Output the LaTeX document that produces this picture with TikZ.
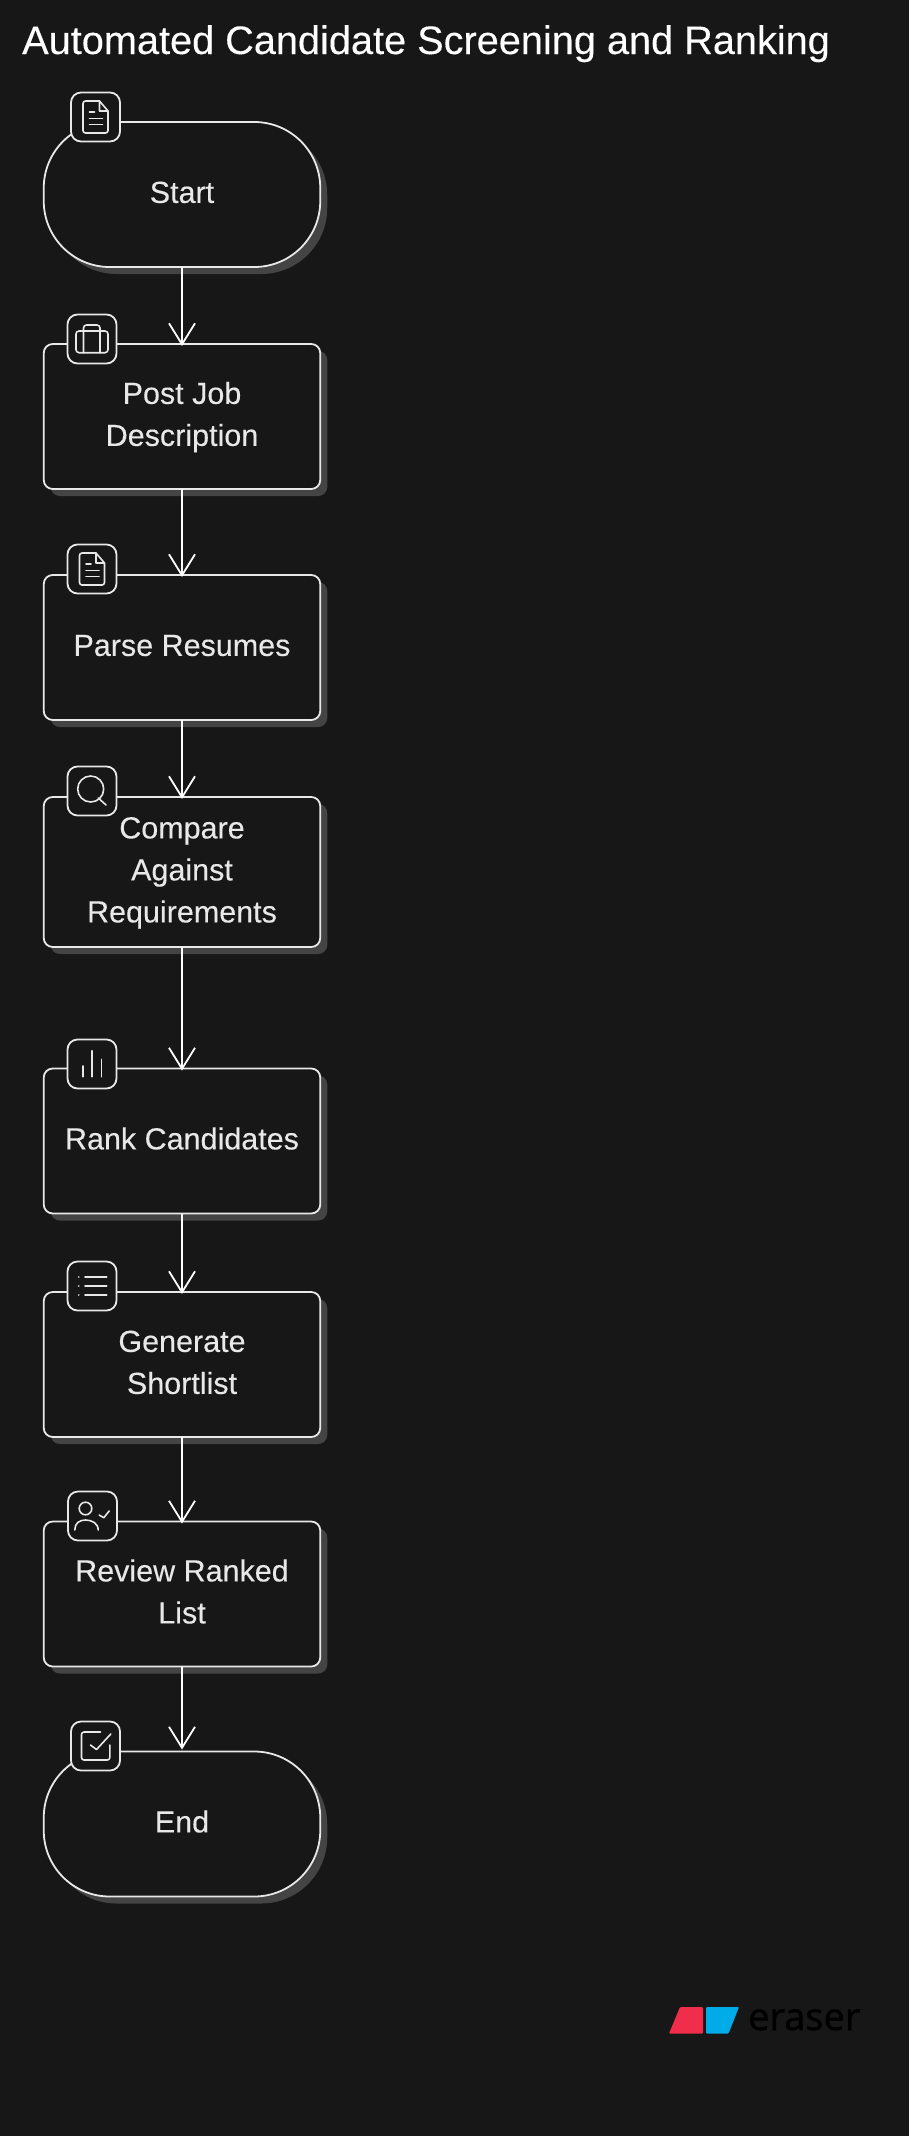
\documentclass[tikz,border=0pt]{standalone}
\usepackage{fontspec}
\setmainfont[FakeBold=0.2]{Liberation Sans}
\newfontfamily\logofont[FakeBold=1.2]{Open Sans}
\usetikzlibrary{arrows.meta,shadows}

\definecolor{pagebg}{HTML}{171717}
\definecolor{inkline}{HTML}{E8E8E8}
\definecolor{shadowgray}{HTML}{444444}
\definecolor{logored}{HTML}{F02D4B}
\definecolor{logoblue}{HTML}{00ACE8}

\newcommand{\boxlines}[1]{\begin{tabular}{@{}c@{}}#1\end{tabular}}

\tikzset{
  flowbox/.style={draw=inkline,line width=1.8pt,fill=pagebg,text=inkline,
    minimum width=276.5pt,minimum height=145pt,inner sep=0pt,outer sep=0pt,
    rounded corners=9pt,font=\fontsize{30.5}{42}\selectfont,
    drop shadow={shadow xshift=7pt,shadow yshift=-7pt,fill=shadowgray,opacity=1}},
  endbox/.style={flowbox,rounded corners=66pt},
  iconbox/.style={draw=inkline,line width=1.8pt,fill=pagebg,minimum size=49pt,
    inner sep=0pt,outer sep=0pt,rounded corners=10pt},
  flowarrow/.style={draw=white,line width=1.8pt,shorten >=-2pt,-{Straight Barb[length=21pt,width=26pt,line width=1.8pt]}},
  iconline/.style={draw=inkline,line width=1.6pt,line cap=round,line join=round},
  docicon/.pic={
    \draw[iconline,rounded corners=2.5pt] (4,-16) -- (-12.5,-16) -- (-12.5,16) -- (12.5,16) -- (12.5,-6);
    \draw[iconline] (4,-16) -- (12.5,-6) -- (4,-6) -- cycle;
    \draw[iconline] (-6,-5.3) -- (-1,-5.3);
    \draw[iconline] (-6,1.3) -- (7,1.3);
    \draw[iconline] (-6,7.3) -- (7,7.3);
  },
  caseicon/.pic={
    \draw[iconline,rounded corners=3pt] (-16,-8) rectangle (16,13.7);
    \draw[iconline,rounded corners=3pt] (-8.5,13.7) -- (-8.5,-14) -- (8,-14) -- (8,13.7);
  },
  searchicon/.pic={
    \draw[iconline] (-1.3,-2) circle (13);
    \draw[iconline] (6.3,7) -- (14,14);
  },
  barsicon/.pic={
    \draw[iconline] (-9.3,12.7) -- (-9.3,2);
    \draw[iconline] (0,12.7) -- (0,-13.3);
    \draw[iconline] (9.3,12.7) -- (9.3,-4.7);
  },
  listicon/.pic={
    \draw[iconline] (-7,-9) -- (14.7,-9);
    \draw[iconline] (-7,0) -- (14.7,0);
    \draw[iconline] (-7,9) -- (14.7,9);
    \fill[inkline] (-13.3,-9) circle (0.9);
    \fill[inkline] (-13.3,0) circle (0.9);
    \fill[inkline] (-13.3,9) circle (0.9);
  },
  usercheckicon/.pic={
    \draw[iconline] (-7,-7.5) circle (6.3);
    \draw[iconline] (-17.7,14) .. controls (-17.7,7) and (-13,4) .. (-7,4) .. controls (-1,4) and (5.7,7) .. (5.7,14);
    \draw[iconline] (6.7,-1) -- (11.3,1.7) -- (16.7,-5);
  },
  checkicon/.pic={
    \draw[iconline,rounded corners=2.5pt] (5,-14) -- (-14,-14) -- (-14,14) -- (14.3,14) -- (14.3,-1);
    \draw[iconline] (-5,-1) -- (1,3.5) -- (15.3,-12);
  }
}

\begin{document}
\begin{tikzpicture}[x=1pt,y=-1pt]
\fill[pagebg] (0,0) rectangle (909,2136);

\node[anchor=base west,inner sep=0pt,text=white,font=\fontsize{39.7}{48}\selectfont] (title) at (22,54) {Automated Candidate Screening and Ranking};

% Flow boxes, top to bottom.
\node[endbox] (start) at (182,194.5) {\boxlines{Start}};
\node[flowbox] (post) at (182,416.5) {\boxlines{Post Job\\Description}};
\node[flowbox] (parse) at (182,647.5) {\boxlines{Parse Resumes}};
\node[flowbox,minimum height=150pt] (compare) at (182,872) {\boxlines{Compare\\Against\\Requirements}};
\node[flowbox] (rank) at (182,1141) {\boxlines{Rank Candidates}};
\node[flowbox] (shortlist) at (182,1364.5) {\boxlines{Generate\\Shortlist}};
\node[flowbox] (review) at (182,1594) {\boxlines{Review Ranked\\List}};
\node[endbox] (finish) at (182,1824) {\boxlines{End}};

\draw[flowarrow] (start) -- (post);
\draw[flowarrow] (post) -- (parse);
\draw[flowarrow] (parse) -- (compare);
\draw[flowarrow] (compare) -- (rank);
\draw[flowarrow] (rank) -- (shortlist);
\draw[flowarrow] (shortlist) -- (review);
\draw[flowarrow,shorten >=2pt] (review) -- (finish);

% Icon badges on the top left corners.
\node[iconbox] (iconstart) at (95.5,117) {};
\pic at (iconstart) {docicon};
\node[iconbox] (iconpost) at (92,339) {};
\pic at (iconpost) {caseicon};
\node[iconbox] (iconparse) at (92,569) {};
\pic at (iconparse) {docicon};
\node[iconbox] (iconcompare) at (92,791) {};
\pic at (iconcompare) {searchicon};
\node[iconbox] (iconrank) at (92,1064) {};
\pic at (iconrank) {barsicon};
\node[iconbox] (iconshortlist) at (92,1286) {};
\pic at (iconshortlist) {listicon};
\node[iconbox] (iconreview) at (92.5,1516) {};
\pic at (iconreview) {usercheckicon};
\node[iconbox] (iconfinish) at (95.5,1746) {};
\pic at (iconfinish) {checkicon};

% Logo, bottom right.
\fill[logored,rounded corners=1pt] (669,2033.5) -- (680,2007) -- (703,2007) -- (703,2033.5) -- cycle;
\fill[logoblue,rounded corners=1pt] (706,2007) -- (739,2007) -- (728.5,2033.5) -- (706,2033.5) -- cycle;
\node[anchor=base west,inner sep=0pt,text=black,font=\logofont\fontsize{38}{40}\selectfont] (logotext) at (748,2030) {eraser};
\end{tikzpicture}
\end{document}
